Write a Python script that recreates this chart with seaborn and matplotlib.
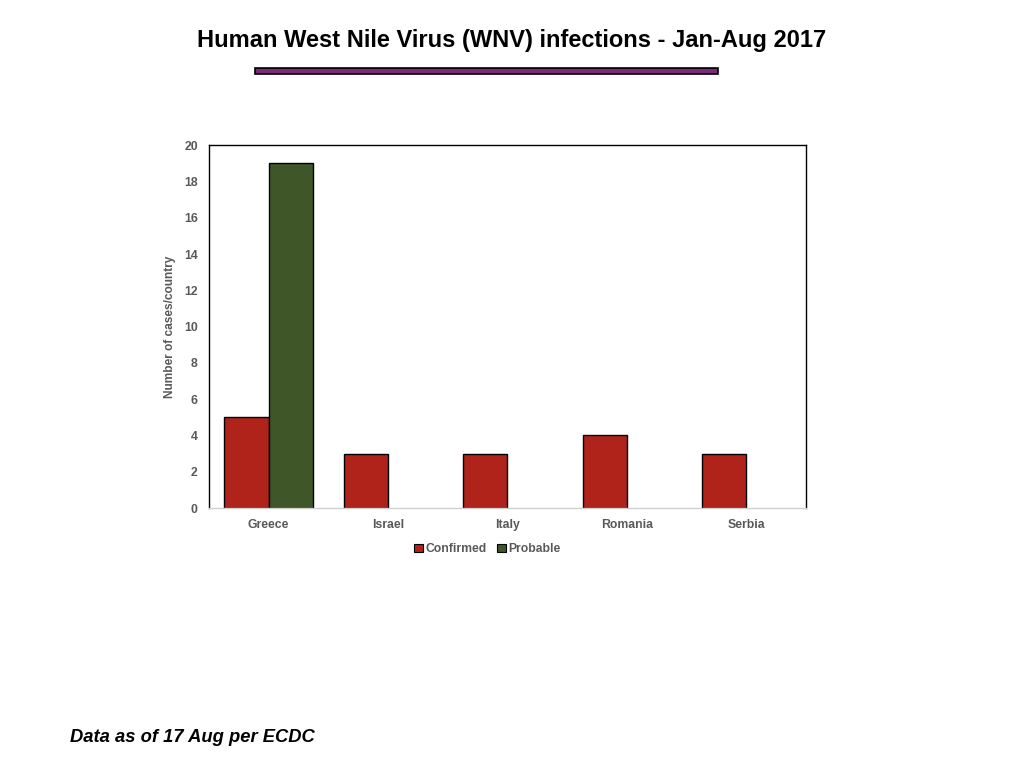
import pandas as pd
import numpy as np
import matplotlib
matplotlib.use('Agg')
import matplotlib.pyplot as plt
import seaborn as sns
from matplotlib.patches import Rectangle

# Data
countries = ['Greece', 'Israel', 'Italy', 'Romania', 'Serbia']
confirmed = [5, 3, 3, 4, 3]
probable = [19, 0, 0, 0, 0]
case_types = ['Confirmed', 'Probable']
yticks = list(range(0, 21, 2))

df = pd.DataFrame({
    'country': countries * 2,
    'cases': confirmed + probable,
    'type': [case_types[0]] * len(countries) + [case_types[1]] * len(countries),
})

sns.set_style('white')
plt.rcParams['font.family'] = ['Liberation Sans', 'DejaVu Sans']

fig = plt.figure(figsize=(10.24, 7.68), dpi=100)
ax = fig.add_axes([0.204, 0.3385, 0.583, 0.4725])

palette = {'Confirmed': '#B0231A', 'Probable': '#3F5629'}
sns.barplot(data=df, x='country', y='cases', hue='type', palette=palette,
            width=0.74, edgecolor='black', linewidth=1, saturation=1,
            legend=False, ax=ax)
# hide zero-height bars' outlines
for p in ax.patches:
    if p.get_height() == 0:
        p.set_visible(False)

ax.set_ylim(0, 20)
ax.set_yticks(yticks)
ax.set_xlim(-0.5, len(countries) - 0.5)
gray = '#595959'
ax.tick_params(axis='both', length=0, labelsize=8.8, labelcolor=gray, pad=8)
for lbl in ax.get_xticklabels() + ax.get_yticklabels():
    lbl.set_fontweight('bold')
ax.set_xlabel('')
ax.set_ylabel('Number of cases/country', fontsize=8.6, color=gray, fontweight='bold', labelpad=6)

for side in ['left', 'top', 'right']:
    ax.spines[side].set_color('black')
    ax.spines[side].set_linewidth(1)
ax.spines['bottom'].set_color('#D0D0D0')
ax.spines['bottom'].set_linewidth(1)

# legend
handles = [Rectangle((0, 0), 1, 1, facecolor=palette[t], edgecolor='black', linewidth=0.8) for t in case_types]
leg = fig.legend(handles, case_types, loc='center', bbox_to_anchor=(0.476, 0.285), ncol=2,
                 frameon=False, handlelength=0.7, handleheight=0.7, handletextpad=0.2,
                 columnspacing=0.9, prop={'size': 8.7, 'weight': 'bold'})
for t in leg.get_texts():
    t.set_color(gray)

# title and decorative bar
fig.text(0.5, 1 - 41 / 768, 'Human West Nile Virus (WNV) infections - Jan-Aug 2017',
         ha='center', va='center', fontsize=17, fontweight='bold', color='black')
fig.add_artist(Rectangle((255 / 1024, 1 - 74 / 768), 463 / 1024, 6 / 768,
                         facecolor='#7A2A78', edgecolor='black', linewidth=1.2,
                         transform=fig.transFigure))

fig.text(70 / 1024, 1 - 737 / 768, 'Data as of 17 Aug per ECDC', ha='left', va='center',
         fontsize=13.2, fontweight='bold', fontstyle='italic', color='black')

fig.savefig('out.png', dpi=100, facecolor='white')
